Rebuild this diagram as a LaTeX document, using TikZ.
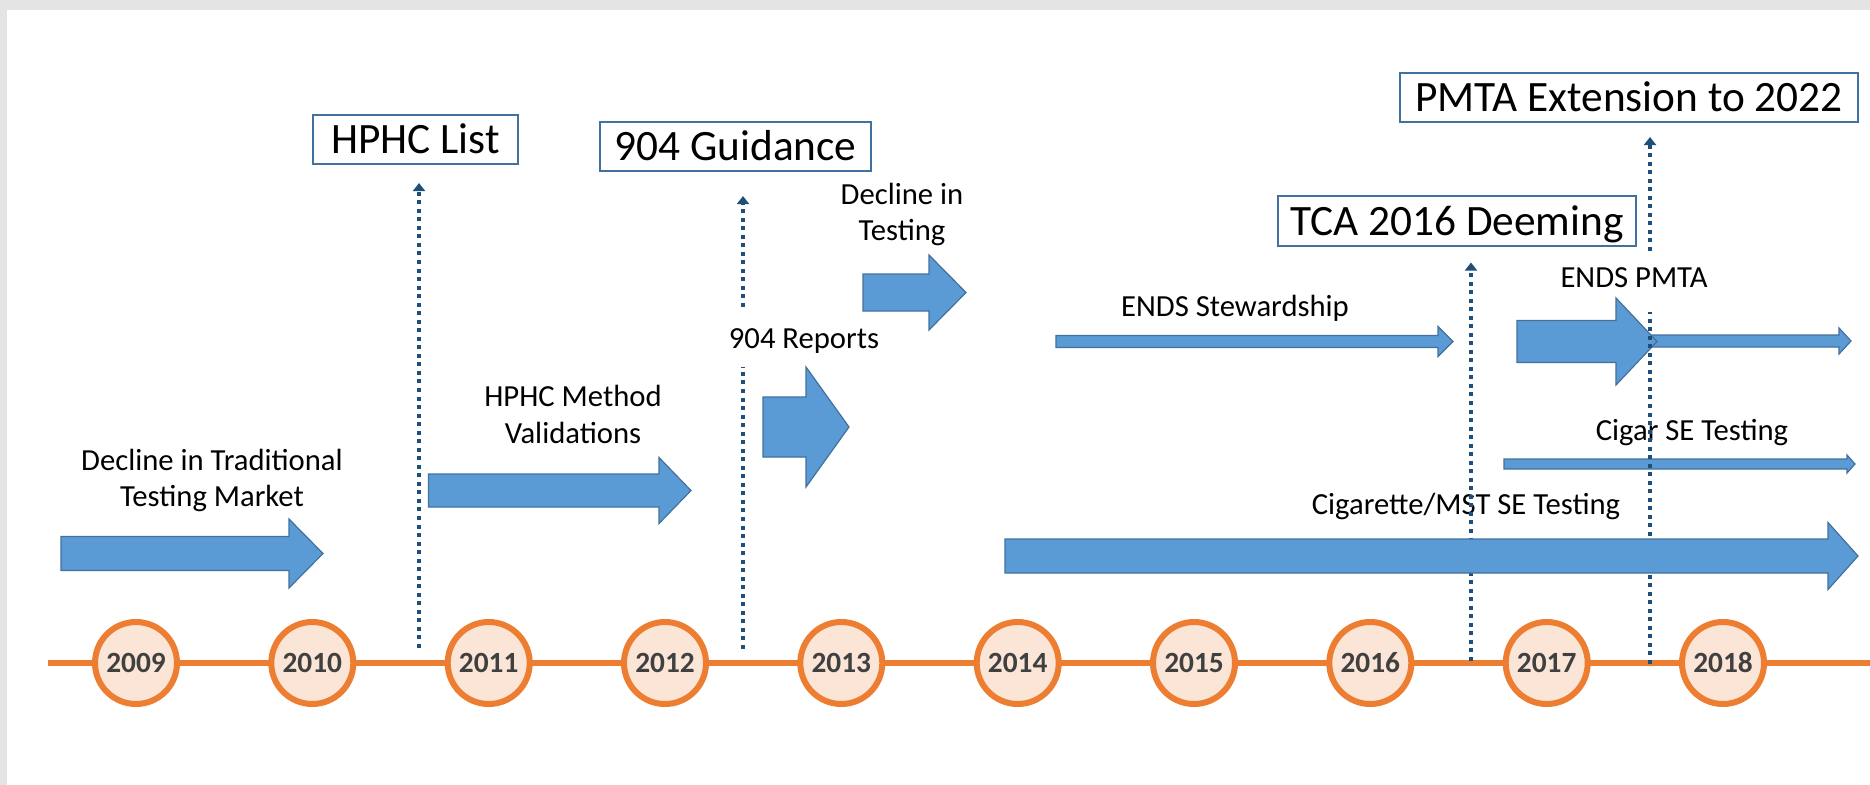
\documentclass[tikz,border=0pt]{standalone}
\usepackage{fontspec}
\setmainfont{Carlito}
\usetikzlibrary{arrows.meta}

\definecolor{arrowblue}{RGB}{91,155,213}
\definecolor{edgeblue}{RGB}{65,113,156}
\definecolor{dotblue}{RGB}{31,78,121}
\definecolor{tlorange}{RGB}{237,125,49}
\definecolor{peach}{RGB}{251,229,214}
\definecolor{yeargray}{RGB}{64,64,64}
\definecolor{framegray}{RGB}{228,228,228}

\begin{document}
\begin{tikzpicture}[x=0.75pt,y=0.75pt,yscale=-1,xscale=1,
  year/.style={circle,draw=tlorange,line width=4.5pt,fill=peach,minimum size=61.5pt,inner sep=0pt,text=yeargray,text height=14pt,text depth=0pt,font=\fontsize{22}{26}\selectfont\bfseries},
  event/.style={draw=edgeblue,line width=1.3pt,fill=white,inner xsep=0pt,minimum height=37pt,text height=21pt,text depth=0pt,font=\fontsize{32.5}{39}\selectfont},
  lbl/.style={align=center,inner sep=0pt,font=\fontsize{23}{27.4}\selectfont},
  blockarrow/.style={fill=arrowblue,draw=edgeblue,line width=0.9pt,line join=miter},
  marker/.style={dotblue,line width=3pt,dash pattern=on 3pt off 3.4pt,-{Triangle[length=6pt,width=9pt]}},
  markerline/.style={dotblue,line width=3pt,dash pattern=on 3pt off 3.4pt}
]
\useasboundingbox (0,0) rectangle (1870,785);
%Frame
\fill [framegray] (0,0) rectangle (1870,785);
\fill [white] (7,10) rectangle (1870,785);

%Shape: Right Arrow [traditional market]
\draw [blockarrow] (61,536.5) -- (289,536.5) -- (289,519) -- (323,553.5) -- (289,588) -- (289,570.5) -- (61,570.5) -- cycle ;
%Shape: Right Arrow [method validations]
\draw [blockarrow] (428.5,474) -- (659,474) -- (659,457.5) -- (691,490.5) -- (659,523.5) -- (659,507) -- (428.5,507) -- cycle ;
%Shape: Right Arrow [904 reports]
\draw [blockarrow] (763,397) -- (806,397) -- (806,367) -- (849,427) -- (806,487) -- (806,457) -- (763,457) -- cycle ;
%Shape: Right Arrow [decline in testing]
\draw [blockarrow] (863,274) -- (929,274) -- (929,255) -- (966,292.5) -- (929,330) -- (929,311) -- (863,311) -- cycle ;
%Shape: Right Arrow [stewardship]
\draw [blockarrow] (1056,335.5) -- (1438,335.5) -- (1438,326.5) -- (1453,341.5) -- (1438,356.5) -- (1438,347.5) -- (1056,347.5) -- cycle ;
%Shape: Right Arrow [ends pmta, thin part]
\draw [blockarrow] (1620,335) -- (1839,335) -- (1839,328) -- (1851,341) -- (1839,354) -- (1839,347) -- (1620,347) -- cycle ;
%Shape: Right Arrow [ends pmta]
\draw [blockarrow] (1517,320.5) -- (1616,320.5) -- (1616,298) -- (1657,341.5) -- (1616,385) -- (1616,362.5) -- (1517,362.5) -- cycle ;
%Shape: Right Arrow [cigar]
\draw [blockarrow] (1504,459) -- (1847,459) -- (1847,455) -- (1855,464) -- (1847,473) -- (1847,469) -- (1504,469) -- cycle ;

%Timeline
\draw [tlorange,line width=5pt] (48,663) -- (1870,663) ;
\draw (136,663) node [year] (y2009) {2009};
\draw (312.3,663) node [year] (y2010) {2010};
\draw (488.7,663) node [year] (y2011) {2011};
\draw (665,663) node [year] (y2012) {2012};
\draw (841.3,663) node [year] (y2013) {2013};
\draw (1017.7,663) node [year] (y2014) {2014};
\draw (1194,663) node [year] (y2015) {2015};
\draw (1370.3,663) node [year] (y2016) {2016};
\draw (1546.7,663) node [year] (y2017) {2017};
\draw (1723,663) node [year] (y2018) {2018};

% Event boxes
\draw (415.5,139.5) node [event,minimum width=154pt] (hphc) {HPHC List};
\draw (735.5,146.5) node [event,minimum width=203.5pt] (guid) {904 Guidance};
\draw (1457,221) node [event,minimum width=268.7pt] (tca) {TCA 2016 Deeming};
\draw (1629,97.5) node [event,minimum width=343.7pt] (pmta) {PMTA Extension to 2022};

% Text Node
\draw (212,480.5) node [lbl] (trad) {Decline in Traditional\\Testing Market};
% Text Node
\draw (573,414.5) node [lbl] (valid) {HPHC Method\\Validations};
% Text Node
\draw (804,341) node [lbl] (reports) {904 Reports};
% Text Node
\draw (902,214.5) node [lbl] (decl) {Decline in\\Testing};
% Text Node
\draw (1235,308) node [lbl] (stew) {ENDS Stewardship};
% Text Node
\draw (1634,278) node [lbl] (endspmta) {ENDS PMTA};
% Text Node
\draw (1692,433) node [lbl] (cigar) {Cigar SE Testing};
% Text Node
\draw (1466,506) node [lbl] (cigarette) {Cigarette/MST SE Testing};

%Dotted markers
\coordinate (b2011) at (419,648);
\coordinate (b2012) at (743,649);
\coordinate (r904lo) at (743,367);
\coordinate (r904up) at (743,307);
\coordinate (b2016) at (1471,661);
\coordinate (b2017) at (1650,664);
\coordinate (e2017lo) at (1650,312);
\coordinate (e2017up) at (1650,251);
\draw [marker,shorten >=13.5pt] (b2011) -- (b2011 |- hphc.south) ;
\draw [markerline] (b2012) -- (r904lo) ;
\draw [marker,shorten >=18pt] (r904up) -- (r904up |- guid.south) ;
\draw [marker,shorten >=12pt] (b2016) -- (b2016 |- tca.south) ;
\draw [markerline] (b2017) -- (e2017lo) ;
\draw [marker,shorten >=10.5pt] (e2017up) -- (e2017up |- pmta.south) ;

%Shape: Right Arrow [cigarette/mst]
\draw [blockarrow] (1005,539) -- (1828,539) -- (1828,522.5) -- (1858,556) -- (1828,589.5) -- (1828,573) -- (1005,573) -- cycle ;

\end{tikzpicture}
\end{document}
